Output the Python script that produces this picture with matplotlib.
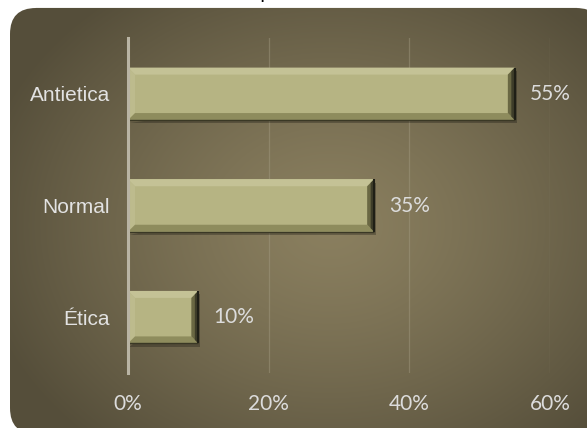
import matplotlib
matplotlib.use("Agg")
import matplotlib.pyplot as plt
import numpy as np
from matplotlib.patches import FancyBboxPatch, Polygon

categories = ["Ética", "Normal", "Antietica"]
values = [10, 35, 55]
ticks = [0, 20, 40, 60]
tick_labels = ["0%", "20%", "40%", "60%"]

W, H = 587, 428
fig = plt.figure(figsize=(W / 100, H / 100), dpi=100, facecolor="white")

# rounded panel with a radial gradient
bg = fig.add_axes([0, 0, 1, 1])
bg.set_xlim(0, W)
bg.set_ylim(H, 0)
bg.axis("off")
yy, xx = np.mgrid[0:H, 0:W]
r = np.sqrt(((xx - 330) / 360.0) ** 2 + ((yy - 225) / 290.0) ** 2)
r = np.clip(r, 0, 1) ** 1.3
c_in = np.array([0x8a, 0x7f, 0x5f]) / 255
c_out = np.array([0x55, 0x4e, 0x3a]) / 255
img = c_in[None, None, :] * (1 - r[..., None]) + c_out[None, None, :] * r[..., None]
panel = FancyBboxPatch((10, 8), 592, 426, boxstyle="round,pad=0,rounding_size=26",
                       facecolor="none", edgecolor="none", zorder=2)
bg.add_patch(panel)
im = bg.imshow(img, extent=(0, W, H, 0), zorder=1)
im.set_clip_path(panel)
# faint light rim along the top edge
bg.plot([36, 576], [7.5, 7.5], color="#c4c3bb", lw=1.0, zorder=0)

ax = fig.add_axes([128 / W, 55 / H, 422 / W, 335 / H])
ax.patch.set_alpha(0)
ax.set_xlim(0, 60)
ax.set_ylim(-0.5, 2.5)

pos = np.arange(len(categories))
bar_h = 0.47
ax.barh(pos, values, height=bar_h, color="#b6b483", edgecolor="none", zorder=3)

# bevel edges, sized in pixels then converted to data units
bx = 7 / (422 / 60)
by = 7 / (335 / 3)
for p, v in zip(pos, values):
    x0, x1 = 0, v
    y0, y1 = p - bar_h / 2, p + bar_h / 2
    # soft shadow
    ax.add_patch(Polygon([(x0 + 0.15, y0 - 0.03), (x1 + 0.3, y0 - 0.03),
                          (x1 + 0.3, y1 - 0.03), (x1, y1 - 0.03)],
                         closed=True, facecolor="black", alpha=0.25, edgecolor="none", zorder=2))
    bevels = [
        ([(x0, y1), (x1, y1), (x1 - bx, y1 - by), (x0 + bx, y1 - by)], "#c4c296"),
        ([(x0, y0), (x0, y1), (x0 + bx, y1 - by), (x0 + bx, y0 + by)], "#bdbb8d"),
        ([(x0, y0), (x1, y0), (x1 - bx, y0 + by), (x0 + bx, y0 + by)], "#8e8c5d"),
        ([(x1, y0), (x1, y1), (x1 - bx, y1 - by), (x1 - bx, y0 + by)], "#6a6843"),
        ([(x1, y0), (x1, y1), (x1 - bx / 2, y1 - by / 2), (x1 - bx / 2, y0 + by / 2)], "#3e3d29"),
    ]
    for pts, col in bevels:
        ax.add_patch(Polygon(pts, closed=True, facecolor=col, edgecolor="none", zorder=4))
    ax.plot([x1, x1], [y0, y1], color="#1f1f16", lw=1.5, zorder=5, solid_capstyle="butt")
    ax.plot([x0, x1], [y0, y0], color="#3a3825", lw=1.0, zorder=5, solid_capstyle="butt")
    ax.text(v + 15 / (422 / 60), p, f"{v}%", va="center", ha="left",
            fontsize=15, family="Lato", color="#dcdcdc", zorder=6)

ax.set_yticks(pos)
ax.set_yticklabels(categories, fontsize=15, family="Liberation Sans", color="#e2e2e2")
ax.set_xticks(ticks)
ax.set_xticklabels(tick_labels, fontsize=15, family="Lato", color="#dcdcdc")
ax.tick_params(axis="y", length=0, pad=13)
ax.tick_params(axis="x", length=0, pad=15)

ax.grid(axis="x", color="#a39b82", alpha=0.45, linewidth=0.9, zorder=0)
ax.set_axisbelow(True)
for side in ["top", "right", "bottom"]:
    ax.spines[side].set_visible(False)
ax.spines["left"].set_color("#b9b4a4")
ax.spines["left"].set_linewidth(2.2)
ax.spines["left"].set_zorder(6)

# title text sits above the visible area
fig.text(259 / W, 1 + 2 / H, "p", fontsize=14, color="black", ha="left", va="baseline")

fig.savefig("out.png", dpi=100)
